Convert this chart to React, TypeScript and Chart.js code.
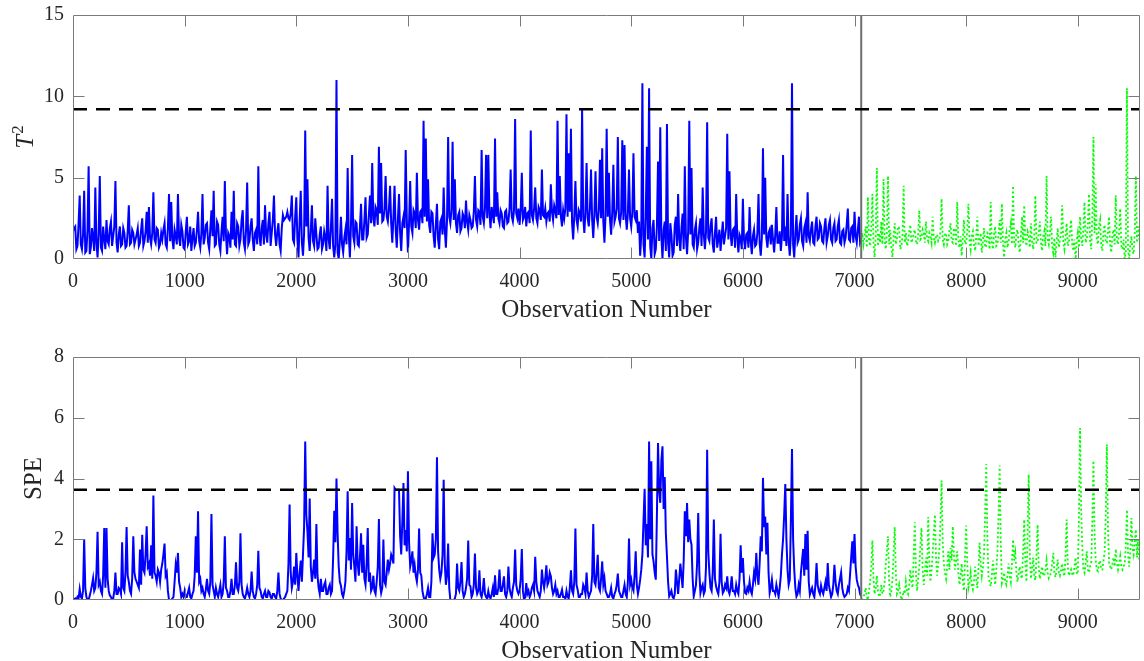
import React, { useEffect, useRef } from "react";
import { Chart, registerables } from "chart.js";

Chart.register(...registerables);

// Sampling interval of the stored monitoring statistics (observations per value)
const STEP = 10;
// First observation of the test block; the training block runs from 0 up to here
const TEST_START = 7060;
const X_MAX = 9557;
const X_TICKS = [0, 1000, 2000, 3000, 4000, 5000, 6000, 7000, 8000, 9000];
const T2_TICKS = [0, 5, 10, 15];
const SPE_TICKS = [0, 2, 4, 6, 8];
const T2_LIMIT = 9.2;
const SPE_LIMIT = 3.63;

// Hotelling T² — training data
const T2_TRAIN = [
  1.7, 1.9, 2.0, 0.6, 0.8, 2.2, 3.9, 0.9, 0.6, 1.5, 4.2, 0.4, 0.5, 1.8, 5.7, 0.3, 0.7, 1.9, 1.3, 0.5,
  4.4, 1.0, 0.1, 1.6, 5.1, 0.7, 0.5, 2.0, 1.2, 0.6, 2.4, 1.1, 0.9, 1.9, 2.3, 0.8, 1.4, 2.0, 4.8, 1.0,
  0.4, 1.5, 2.0, 0.8, 0.9, 1.9, 1.6, 0.7, 0.8, 1.7, 3.3, 0.9, 1.0, 1.8, 1.6, 0.9, 1.2, 1.5, 1.9, 0.8,
  1.0, 1.8, 2.5, 0.8, 1.1, 1.7, 2.9, 1.0, 3.2, 1.3, 0.9, 1.6, 4.1, 1.2, 1.0, 1.9, 1.8, 0.7, 0.9, 1.6,
  1.2, 1.8, 2.2, 0.9, 0.7, 1.9, 4.0, 1.1, 3.5, 1.2, 0.6, 1.8, 1.4, 0.9, 4.0, 1.3, 0.8, 2.1, 1.7, 0.7,
  0.6, 1.7, 2.6, 0.9, 1.1, 2.0, 0.5, 1.3, 1.9, 0.8, 1.0, 1.8, 2.9, 1.1, 0.7, 1.6, 4.0, 0.9, 1.3, 2.1,
  2.2, 1.0, 0.6, 1.9, 3.0, 1.4, 4.2, 0.8, 0.9, 2.3, 2.1, 0.9, 0.5, 1.7, 2.6, 1.1, 4.8, 1.5, 0.3, 1.6,
  1.4, 0.7, 2.9, 1.2, 4.2, 0.9, 0.8, 2.2, 2.0, 0.8, 1.2, 2.4, 3.0, 1.0, 0.6, 1.8, 4.7, 0.9, 1.1, 2.0,
  2.5, 1.2, 0.5, 1.6, 1.8, 0.9, 5.7, 1.4, 0.8, 1.9, 2.4, 0.9, 3.3, 1.5, 1.0, 2.2, 2.9, 0.8, 1.6, 2.4,
  3.9, 1.5, 0.8, 1.7, 2.2, 0.9, 0.5, 1.9, 2.7, 2.4, 2.5, 2.6, 2.9, 2.5, 2.4, 2.8, 3.9, 1.2, 1.0, 2.6,
  3.8, 1.2, 0.1, 2.4, 4.2, 1.0, 0.2, 1.6, 7.9, 2.0, 4.9, 1.3, 0.5, 1.8, 3.3, 1.1, 0.8, 2.5, 1.5, 0.6,
  0.7, 1.5, 2.0, 0.6, 0.9, 1.7, 1.3, 0.5, 4.5, 1.2, 0.6, 1.9, 3.7, 0.8, 0.1, 0.9, 11.0, 0.4, 0.0, 1.1,
  2.6, 0.9, 0.4, 1.3, 1.8, 0.9, 5.6, 1.5, 0.1, 2.1, 6.4, 1.4, 1.0, 2.3, 2.2, 0.9, 0.8, 2.0, 3.4, 1.2,
  1.2, 2.4, 3.8, 1.3, 1.5, 2.7, 3.9, 2.2, 5.9, 2.5, 2.0, 3.2, 3.0, 2.1, 6.9, 2.8, 5.9, 2.3, 2.4, 3.1,
  5.1, 2.6, 2.3, 3.1, 4.5, 2.2, 1.0, 2.6, 4.5, 1.8, 0.7, 2.4, 4.0, 1.6, 0.5, 2.2, 2.6, 1.9, 6.7, 2.4,
  0.4, 2.2, 4.8, 2.0, 1.6, 3.0, 2.8, 1.9, 5.3, 2.4, 1.8, 2.9, 3.0, 2.2, 8.5, 2.6, 7.4, 2.3, 4.9, 2.1,
  1.6, 2.9, 2.8, 1.4, 0.7, 2.1, 3.4, 1.2, 0.6, 2.3, 2.5, 1.5, 4.4, 1.8, 0.7, 2.4, 7.5, 2.6, 2.2, 3.0,
  7.2, 2.4, 4.9, 2.2, 1.6, 2.7, 2.9, 1.7, 1.9, 2.8, 2.6, 1.9, 3.6, 2.3, 1.8, 2.7, 2.4, 1.9, 2.0, 2.9,
  5.1, 2.4, 2.0, 3.0, 2.9, 2.1, 6.7, 2.6, 2.2, 3.1, 6.4, 2.5, 6.4, 2.8, 1.9, 3.2, 2.7, 2.2, 7.4, 2.6,
  4.1, 2.5, 2.2, 3.0, 2.8, 2.0, 1.9, 2.9, 3.0, 2.2, 2.3, 3.1, 5.5, 2.6, 2.3, 3.0, 8.6, 2.8, 2.5, 3.1,
  2.1, 3.0, 5.3, 2.4, 2.6, 3.2, 2.0, 2.8, 2.9, 2.2, 7.9, 2.7, 2.4, 3.1, 4.4, 2.5, 2.2, 3.2, 3.0, 2.4,
  5.5, 2.7, 2.6, 3.1, 2.3, 2.8, 2.9, 2.3, 4.6, 2.9, 2.4, 3.3, 3.0, 2.5, 8.5, 2.7, 5.1, 2.6, 2.0, 3.0,
  2.5, 3.1, 8.9, 2.6, 6.5, 2.9, 8.0, 2.2, 1.2, 2.7, 4.8, 2.4, 2.0, 3.0, 2.8, 2.3, 9.2, 2.6, 1.6, 2.9,
  5.9, 2.5, 2.0, 3.1, 5.5, 2.4, 1.3, 2.8, 5.4, 2.6, 2.2, 3.0, 6.1, 2.5, 6.8, 2.3, 1.0, 2.7, 8.0, 2.6,
  5.3, 2.4, 1.5, 2.9, 5.8, 2.3, 2.6, 3.1, 7.5, 2.5, 2.2, 2.9, 7.3, 2.4, 7.0, 2.7, 1.8, 2.8, 5.5, 2.5,
  2.0, 2.9, 6.5, 2.6, 2.4, 3.0, 1.6, 2.3, 0.2, 1.5, 10.8, 0.9, 0.1, 2.6, 6.9, 1.2, 10.5, 0.8, 0.0, 1.9,
  2.4, 0.3, 0.6, 2.0, 6.0, 1.1, 8.1, 1.4, 0.0, 1.8, 2.3, 0.5, 8.3, 1.0, 0.1, 2.2, 1.5, 0.2, 0.4, 2.1,
  2.6, 0.8, 4.0, 1.2, 0.5, 1.9, 2.8, 0.6, 5.7, 1.3, 0.3, 1.7, 8.5, 1.5, 5.6, 0.9, 0.7, 1.8, 2.2, 0.6,
  1.0, 1.9, 2.5, 0.8, 4.4, 1.5, 0.6, 1.7, 8.4, 1.3, 1.1, 2.0, 2.5, 0.9, 0.4, 1.6, 2.6, 0.7, 1.2, 1.8,
  0.5, 1.4, 2.3, 0.9, 1.4, 1.9, 7.7, 1.2, 5.4, 1.5, 0.8, 1.8, 1.9, 0.7, 4.0, 1.3, 0.4, 1.5, 1.3, 0.6,
  3.7, 1.2, 0.6, 1.5, 1.6, 0.7, 3.2, 1.1, 0.3, 1.4, 1.8, 0.8, 0.9, 1.6, 4.0, 1.0, 0.2, 1.3, 6.8, 1.5,
  5.0, 1.3, 0.7, 1.6, 1.8, 0.9, 2.1, 1.2, 0.4, 1.5, 3.2, 1.0, 1.0, 1.7, 0.5, 1.4, 6.4, 1.1, 2.0, 0.8,
  4.0, 1.1, 0.2, 1.5, 10.8, 0.9, 0.1, 1.6, 2.7, 1.0, 1.2, 2.1, 2.5, 1.1, 0.8, 1.9, 2.2, 1.0, 4.1, 1.4,
  1.1, 1.8, 2.3, 1.0, 0.9, 2.0, 2.6, 1.2, 1.3, 2.2, 2.0, 1.1, 1.0, 1.9, 2.5, 1.0, 1.4, 2.1, 2.4, 1.2,
  1.0, 1.9, 2.2, 1.1, 1.2, 2.0, 2.4, 1.0, 0.9, 1.7, 1.8, 1.0, 1.3, 2.1, 3.1, 1.2, 1.1, 1.9, 2.0, 1.0,
  2.9, 1.4, 1.0, 1.8, 2.6, 1.0, 1.2,
];

// Hotelling T² — test data
const T2_TEST = [
  1.2, 1.6, 0.9, 1.4, 2.0, 0.7, 3.8, 1.1, 0.8, 1.9, 4.0, 1.0, 0.1, 1.5, 5.6, 0.8, 1.6, 1.0, 2.3, 0.9,
  4.9, 1.2, 0.6, 1.7, 5.1, 0.9, 1.8, 0.7, 0.1, 1.4, 2.2, 0.9, 1.3, 2.0, 1.9, 0.6, 0.8, 1.5, 4.5, 1.0,
  1.6, 0.8, 1.0, 1.7, 2.1, 1.0, 1.2, 1.6, 1.8, 1.1, 0.9, 1.5, 3.0, 1.2, 1.3, 1.8, 1.6, 1.0, 2.3, 1.3,
  1.1, 1.6, 1.4, 1.0, 2.6, 1.3, 1.0, 1.4, 1.5, 1.1, 1.2, 1.7, 3.7, 1.2, 0.9, 1.5, 1.6, 0.9, 1.1, 1.8,
  2.2, 1.1, 1.0, 1.9, 1.8, 0.8, 3.5, 1.2, 0.7, 1.4, 0.2, 1.3, 2.4, 0.9, 1.0, 1.7, 3.4, 1.1, 0.6, 1.5,
  1.7, 0.9, 0.5, 1.4, 2.6, 0.8, 1.2, 1.6, 0.4, 1.1, 1.9, 0.7, 0.8, 1.6, 1.5, 0.6, 3.5, 1.0, 0.6, 1.5,
  2.0, 0.8, 0.9, 1.5, 2.4, 1.0, 3.4, 0.9, 0.1, 1.2, 1.6, 0.7, 1.1, 1.8, 2.2, 0.9, 4.5, 1.1, 0.7, 1.6,
  1.8, 0.9, 0.4, 1.3, 2.6, 1.0, 3.3, 1.2, 0.8, 1.7, 1.5, 0.7, 2.2, 1.1, 0.6, 1.4, 3.9, 1.0, 1.0, 1.6,
  2.3, 1.0, 0.5, 1.4, 1.7, 0.8, 5.1, 1.2, 0.9, 1.6, 2.6, 0.8, 0.4, 1.3, 0.1, 1.0, 1.9, 0.7, 1.2, 1.5,
  3.3, 1.0, 0.6, 1.4, 2.2, 0.8, 1.0, 1.7, 2.4, 0.9, 0.5, 1.2, 0.0, 1.1, 1.6, 0.7, 2.6, 1.3, 0.8, 1.9,
  3.5, 1.0, 1.2, 2.2, 4.0, 1.1, 0.6, 2.6, 7.5, 1.6, 4.6, 1.2, 0.9, 2.0, 2.4, 0.8, 0.5, 1.7, 2.1, 1.0,
  1.0, 1.8, 2.6, 0.8, 0.4, 1.5, 1.8, 0.9, 3.9, 1.2, 0.9, 1.7, 3.1, 0.8, 0.6, 1.2, 0.0, 0.4, 10.5, 0.6,
  0.0, 0.9, 1.4, 0.5, 0.3, 1.6, 5.1, 1.0, 2.0, 1.2,
];

// Squared prediction error — training data
const SPE_TRAIN = [
  0.0, 0.02, 0.05, 0.0, 0.1, 0.05, 0.36, 0.1, 0.05, 0.3, 2.0, 0.4, 0.1, 0.0, 0.0, 0.15, 0.3, 0.5, 0.72, 0.3,
  0.4, 0.9, 2.25, 0.5, 0.6, 0.3, 0.2, 0.8, 2.37, 0.4, 2.37, 0.7, 0.3, 0.15, 0.1, 0.0, 0.05, 0.3, 0.9, 0.2,
  0.2, 0.4, 0.35, 0.2, 1.9, 0.4, 0.3, 0.9, 2.4, 0.8, 0.6, 0.3, 0.2, 0.7, 2.1, 0.9, 0.7, 0.6, 0.5, 0.4,
  1.66, 0.5, 2.15, 1.0, 0.9, 1.5, 2.43, 1.1, 1.2, 0.8, 1.8, 0.7, 3.44, 0.9, 0.8, 0.6, 1.0, 0.9, 0.6, 1.0,
  1.2, 1.5, 1.86, 0.8, 0.9, 0.3, 0.0, 0.0, 0.0, 0.05, 0.1, 0.6, 1.16, 0.9, 1.55, 0.6, 0.4, 0.1, 0.2, 0.1,
  0.3, 0.1, 0.1, 0.25, 0.4, 0.1, 0.05, 0.2, 0.3, 0.8, 2.1, 0.9, 2.92, 0.6, 0.7, 0.3, 0.4, 0.2, 0.1, 0.35,
  0.7, 0.3, 0.2, 0.6, 2.83, 0.5, 0.3, 0.1, 0.4, 0.2, 0.1, 0.3, 0.5, 0.1, 0.2, 0.6, 2.1, 0.4, 0.3, 0.1,
  0.1, 0.3, 0.7, 0.2, 0.2, 0.5, 1.24, 0.4, 0.3, 0.6, 2.2, 0.5, 0.2, 0.1, 0.05, 0.2, 0.4, 0.2, 0.1, 0.3,
  0.94, 0.3, 0.1, 0.05, 0.2, 0.5, 1.62, 0.4, 0.3, 0.1, 0.05, 0.2, 0.3, 0.1, 0.1, 0.3, 0.25, 0.1, 0.05, 0.2,
  0.2, 0.1, 0.05, 0.3, 0.9, 0.2, 0.05, 0.0, 0.0, 0.05, 0.1, 0.2, 0.3, 1.2, 3.14, 0.9, 0.4, 0.6, 1.1, 0.5,
  1.55, 0.8, 0.3, 0.9, 1.3, 0.6, 1.5, 2.4, 5.22, 2.8, 2.26, 1.4, 3.34, 1.1, 0.6, 0.9, 1.33, 0.7, 2.5, 0.8,
  0.4, 0.2, 0.7, 0.3, 0.3, 0.5, 0.6, 0.2, 0.2, 0.4, 0.5, 0.2, 0.3, 1.4, 2.94, 1.9, 4.0, 2.2, 1.1, 0.6,
  0.47, 0.2, 0.1, 0.3, 0.6, 1.6, 3.58, 1.3, 2.04, 1.0, 3.19, 1.5, 1.1, 0.6, 2.43, 1.2, 0.8, 1.4, 2.2, 0.9,
  1.82, 0.7, 0.5, 1.2, 2.37, 0.6, 0.9, 0.3, 0.4, 0.8, 0.3, 0.2, 0.6, 1.1, 2.67, 0.5, 0.23, 0.4, 1.99, 0.6,
  0.5, 0.9, 1.33, 1.0, 1.2, 1.5, 1.4, 1.2, 3.69, 3.63, 3.63, 3.63, 3.63, 2.1, 1.5, 2.6, 3.85, 1.8, 2.3, 1.6,
  4.24, 1.9, 1.1, 1.3, 1.6, 0.9, 1.16, 0.8, 0.6, 1.0, 2.35, 0.9, 0.8, 0.3, 0.1, 0.0, 0.05, 0.2, 0.4, 0.1,
  0.1, 0.6, 2.2, 1.4, 1.5, 2.0, 4.7, 1.6, 1.0, 0.7, 0.9, 1.5, 3.96, 1.2, 0.5, 0.8, 1.86, 0.4, 0.0, 0.0,
  0.0, 0.0, 0.05, 0.2, 1.2, 0.4, 0.3, 0.6, 1.25, 0.3, 0.1, 0.2, 0.4, 0.7, 1.96, 0.5, 0.45, 0.1, 0.2, 0.5,
  1.53, 0.4, 0.2, 0.3, 0.98, 0.2, 0.1, 0.3, 0.72, 0.2, 0.1, 0.05, 0.29, 0.1, 0.05, 0.2, 0.4, 0.1, 0.81, 0.2,
  0.2, 0.4, 1.0, 0.3, 0.3, 0.5, 0.78, 0.2, 0.1, 0.3, 1.1, 0.4, 0.2, 0.1, 0.4, 0.6, 1.66, 0.5, 0.3, 0.2,
  0.3, 0.7, 1.68, 0.3, 0.0, 0.1, 0.56, 0.2, 0.3, 0.1, 0.2, 0.4, 0.5, 0.3, 1.42, 0.6, 0.3, 0.2, 0.1, 0.3,
  1.0, 0.6, 0.4, 0.7, 1.14, 0.5, 0.6, 0.9, 0.78, 0.4, 0.2, 0.3, 0.5, 0.2, 0.3, 0.1, 0.1, 0.2, 0.34, 0.1,
  0.1, 0.05, 0.3, 0.1, 0.05, 0.4, 0.98, 0.3, 0.2, 0.6, 2.35, 0.5, 0.34, 0.1, 0.1, 0.2, 0.2, 0.5, 0.4, 0.2,
  0.9, 0.3, 0.1, 0.2, 0.3, 0.8, 2.5, 0.6, 0.5, 0.9, 1.49, 0.4, 0.3, 0.7, 1.27, 0.5, 0.72, 0.3, 0.2, 0.1,
  0.1, 0.2, 0.4, 0.1, 0.05, 0.2, 0.3, 0.5, 0.87, 0.3, 0.2, 0.1, 0.1, 0.3, 0.5, 0.2, 0.1, 0.6, 2.02, 0.5,
  0.67, 0.4, 0.3, 0.8, 1.6, 0.5, 0.2, 0.4, 0.67, 1.0, 1.5, 2.6, 3.66, 1.8, 2.5, 1.4, 5.22, 2.0, 4.57, 1.5,
  1.27, 0.9, 0.67, 2.8, 5.17, 3.6, 3.2, 4.6, 5.06, 3.0, 4.05, 2.2, 1.44, 0.6, 0.12, 0.2, 0.3, 0.1, 0.05, 0.2,
  1.0, 0.6, 0.2, 0.7, 1.2, 0.8, 0.4, 1.3, 2.92, 2.1, 3.19, 1.9, 2.65, 2.0, 1.82, 0.7, 0.12, 0.3, 0.5, 1.2,
  2.86, 0.9, 0.23, 0.4, 0.5, 0.2, 0.3, 1.1, 4.95, 1.6, 0.9, 0.4, 0.3, 0.9, 2.65, 0.7, 0.45, 0.3, 0.2, 0.6,
  2.18, 0.6, 0.23, 0.3, 0.5, 0.4, 0.78, 0.3, 0.2, 0.4, 0.78, 0.3, 0.3, 0.2, 0.5, 0.3, 0.2, 0.7, 1.8, 0.9,
  1.38, 0.6, 0.23, 0.2, 0.4, 0.3, 0.6, 0.3, 0.2, 0.5, 0.9, 0.7, 1.55, 0.8, 0.5, 1.2, 2.1, 1.6, 4.02, 2.4,
  2.75, 1.5, 2.54, 0.9, 0.23, 0.4, 0.67, 0.3, 0.3, 0.2, 0.5, 0.3, 0.1, 0.4, 0.8, 1.5, 2.0, 2.8, 3.82, 2.0,
  1.0, 0.5, 0.67, 2.6, 4.97, 2.0, 1.0, 0.4, 0.12, 0.2, 0.5, 0.3, 0.9, 1.3, 1.68, 0.8, 2.17, 1.0, 2.28, 0.6,
  0.18, 0.3, 0.4, 0.2, 0.1, 0.5, 1.22, 0.5, 0.3, 0.2, 0.48, 0.3, 0.2, 0.4, 0.6, 0.3, 1.22, 0.5, 0.3, 0.1,
  0.2, 0.5, 1.16, 0.6, 0.3, 0.2, 0.5, 0.7, 0.91, 0.4, 0.2, 0.1, 0.14, 0.2, 0.4, 0.3, 0.83, 1.4, 1.93, 1.2,
  2.17, 1.1, 0.67, 0.5, 0.4, 0.2, 0.12,
];

// Squared prediction error — test data
const SPE_TEST = [
  0.0, 0.05, 0.1, 0.2, 0.4, 0.1, 0.0, 0.3, 0.6, 1.1, 1.96, 0.7, 0.2, 0.4, 0.8, 0.3, 0.1, 0.2, 0.5, 0.2,
  0.3, 0.6, 1.2, 1.6, 2.1, 0.6, 0.1, 0.3, 0.7, 1.5, 2.4, 0.9, 0.2, 0.3, 0.5, 0.2, 0.0, 0.1, 0.3, 0.2,
  0.6, 0.3, 0.2, 0.5, 1.0, 0.6, 0.4, 1.5, 2.56, 0.9, 0.3, 0.7, 1.1, 1.8, 2.37, 1.0, 0.5, 0.9, 1.4, 0.8,
  2.73, 1.3, 0.6, 1.0, 1.5, 2.2, 2.81, 1.4, 0.8, 1.2, 1.7, 2.6, 3.93, 1.9, 1.2, 0.9, 0.7, 1.1, 1.6, 1.0,
  1.71, 1.3, 2.43, 1.5, 1.0, 1.3, 1.6, 0.9, 0.5, 0.8, 1.2, 0.6, 0.3, 1.4, 2.45, 1.2, 0.4, 0.6, 0.9, 0.5,
  0.35, 0.6, 1.1, 0.7, 0.4, 1.0, 1.88, 1.2, 0.8, 1.1, 1.5, 2.9, 4.48, 2.0, 0.78, 0.6, 0.45, 0.8, 1.3, 0.9,
  0.5, 1.0, 1.6, 2.8, 4.43, 1.9, 0.56, 0.7, 0.9, 0.6, 0.5, 0.8, 1.2, 0.8, 0.6, 1.2, 1.99, 1.3, 1.55, 0.9,
  0.6, 0.9, 1.1, 0.8, 0.7, 1.6, 2.65, 1.2, 0.6, 2.2, 4.13, 1.5, 0.7, 1.0, 1.4, 0.8, 0.65, 1.5, 2.48, 1.1,
  0.7, 0.9, 1.1, 0.8, 0.8, 1.0, 1.3, 0.9, 0.72, 0.8, 0.9, 1.2, 1.55, 0.9, 0.75, 1.0, 1.33, 0.9, 0.8, 1.0,
  1.2, 0.9, 0.78, 1.5, 2.65, 1.1, 0.8, 0.9, 1.0, 0.85, 0.8, 1.1, 1.4, 0.9, 0.85, 2.8, 5.66, 3.0, 1.77, 1.0,
  0.9, 1.2, 1.6, 1.0, 0.9, 1.1, 1.22, 2.6, 4.59, 2.2, 1.33, 1.0, 0.95, 1.2, 1.3, 1.0, 1.0, 1.3, 1.6, 2.8,
  5.12, 2.4, 1.22, 1.1, 1.0, 1.2, 1.4, 1.1, 1.68, 1.2, 1.0, 1.2, 1.44, 1.1, 1.0, 1.1, 1.2, 1.8, 2.97, 1.5,
  1.1, 1.6, 2.7, 1.7, 1.5, 1.9, 2.32, 1.4, 1.99, 1.3,
];

const FONT = '"Liberation Serif", "Times New Roman", serif';
const TEXT_COLOR = "#262626";
const FRAME_COLOR = "#7a7a7a";
const TICK_LEN = 11;
const TICK_FONT_SIZE = 20;
const LABEL_FONT_SIZE = 25;

type Pt = { x: number; y: number };

const toPoints = (values: number[], start: number): Pt[] =>
  values.map((y, i) => ({ x: start + i * STEP, y }));

type PanelProps = {
  top: number;
  height: number;
  padTop: number;
  axisHeight: number;
  yMax: number;
  yTicks: number[];
  train: number[];
  test: number[];
  limit: number;
  yTitle: "T2" | "SPE";
  yTitleX: number;
};

function Panel(props: PanelProps) {
  const ref = useRef<HTMLCanvasElement | null>(null);

  useEffect(() => {
    const canvas = ref.current;
    if (!canvas) return;
    const { yMax, yTicks, train, test, limit, yTitle, yTitleX } = props;

    // Axes box, inward tick marks, tick labels and axis titles
    const axesPlugin = {
      id: "boxedAxes",
      afterDatasetsDraw(chart: Chart) {
        const { ctx, chartArea: a } = chart;
        const xs = chart.scales.x;
        const ys = chart.scales.y;
        const L = Math.round(a.left) + 0.5;
        const R = Math.round(a.right) - 0.5;
        const T = Math.round(a.top) + 0.5;
        const B = Math.round(a.bottom) - 0.5;
        ctx.save();
        ctx.strokeStyle = FRAME_COLOR;
        ctx.lineWidth = 1;
        ctx.beginPath();
        ctx.moveTo(L, T);
        ctx.lineTo(R, T);
        ctx.lineTo(R, B);
        ctx.lineTo(L, B);
        ctx.closePath();
        for (const v of X_TICKS) {
          const px = Math.round(xs.getPixelForValue(v)) + 0.5;
          if (px <= L + 1 || px >= R - 1) continue;
          ctx.moveTo(px, T);
          ctx.lineTo(px, T + TICK_LEN);
          ctx.moveTo(px, B);
          ctx.lineTo(px, B - TICK_LEN);
        }
        for (const v of yTicks) {
          const py = Math.round(ys.getPixelForValue(v)) + 0.5;
          if (py <= T + 1 || py >= B - 1) continue;
          ctx.moveTo(L, py);
          ctx.lineTo(L + TICK_LEN, py);
          ctx.moveTo(R, py);
          ctx.lineTo(R - TICK_LEN, py);
        }
        ctx.stroke();

        ctx.fillStyle = TEXT_COLOR;
        ctx.font = `${TICK_FONT_SIZE}px ${FONT}`;
        ctx.textAlign = "center";
        ctx.textBaseline = "alphabetic";
        for (const v of X_TICKS) {
          ctx.fillText(String(v), xs.getPixelForValue(v), a.bottom + 28);
        }
        ctx.textAlign = "right";
        ctx.textBaseline = "middle";
        for (const v of yTicks) {
          ctx.fillText(String(v), a.left - 9, ys.getPixelForValue(v));
        }

        ctx.font = `${LABEL_FONT_SIZE}px ${FONT}`;
        ctx.textAlign = "center";
        ctx.textBaseline = "alphabetic";
        ctx.fillText("Observation Number", (a.left + a.right) / 2, a.bottom + 58);

        const cy = (a.top + a.bottom) / 2;
        ctx.translate(yTitleX, cy);
        ctx.rotate(-Math.PI / 2);
        const cap = LABEL_FONT_SIZE * 0.33;
        if (yTitle === "T2") {
          const supSize = Math.round(LABEL_FONT_SIZE * 0.68);
          ctx.font = `italic ${LABEL_FONT_SIZE}px ${FONT}`;
          const wT = ctx.measureText("T").width;
          ctx.font = `${supSize}px ${FONT}`;
          const w2 = ctx.measureText("2").width;
          const x0 = -(wT + w2 + 1) / 2;
          ctx.textAlign = "left";
          ctx.font = `italic ${LABEL_FONT_SIZE}px ${FONT}`;
          ctx.fillText("T", x0, cap);
          ctx.font = `${supSize}px ${FONT}`;
          ctx.fillText("2", x0 + wT + 1, cap - LABEL_FONT_SIZE * 0.42);
        } else {
          ctx.fillText("SPE", 0, cap);
        }
        ctx.restore();
      },
    };

    const chart = new Chart(canvas, {
      type: "line",
      data: {
        datasets: [
          {
            data: [
              { x: 0, y: limit },
              { x: X_MAX, y: limit },
            ],
            borderColor: "#000000",
            borderWidth: 2.5,
            borderDash: [14, 9],
            pointRadius: 0,
          },
          {
            data: [
              { x: TEST_START, y: 0 },
              { x: TEST_START, y: yMax },
            ],
            borderColor: "#6e6e6e",
            borderWidth: 2,
            pointRadius: 0,
          },
          {
            data: toPoints(train, 0),
            borderColor: "#0000ff",
            borderWidth: 2,
            pointRadius: 0,
            tension: 0,
          },
          {
            data: toPoints(test, TEST_START),
            borderColor: "#00ff00",
            borderWidth: 1.8,
            borderDash: [2, 2.5],
            pointRadius: 0,
            tension: 0,
          },
        ],
      },
      options: {
        responsive: false,
        animation: false,
        devicePixelRatio: 1,
        events: [],
        layout: { padding: { top: props.padTop, right: 4, bottom: 0, left: 0 } },
        plugins: {
          legend: { display: false },
          tooltip: { enabled: false },
          title: { display: false },
        },
        scales: {
          x: {
            type: "linear",
            min: 0,
            max: X_MAX,
            grid: { display: false, drawTicks: false },
            border: { display: false },
            ticks: { display: false },
            afterFit: (s: any) => {
              s.height = props.axisHeight;
            },
          },
          y: {
            type: "linear",
            min: 0,
            max: yMax,
            grid: { display: false, drawTicks: false },
            border: { display: false },
            ticks: { display: false },
            afterFit: (s: any) => {
              s.width = 73;
            },
          },
        },
      },
      plugins: [axesPlugin],
    } as any);

    return () => chart.destroy();
  }, []);

  return (
    <canvas
      ref={ref}
      width={1144}
      height={props.height}
      style={{ position: "absolute", left: 0, top: props.top, width: 1144, height: props.height }}
    />
  );
}

export default function App() {
  return (
    <div
      style={{
        position: "absolute",
        left: 0,
        top: 0,
        width: 1144,
        height: 661,
        background: "#ffffff",
        overflow: "hidden",
      }}
    >
      <Panel
        top={0}
        height={330}
        padTop={15}
        axisHeight={71}
        yMax={15}
        yTicks={T2_TICKS}
        train={T2_TRAIN}
        test={T2_TEST}
        limit={T2_LIMIT}
        yTitle="T2"
        yTitleX={25}
      />
      <Panel
        top={330}
        height={331}
        padTop={27}
        axisHeight={61}
        yMax={8}
        yTicks={SPE_TICKS}
        train={SPE_TRAIN}
        test={SPE_TEST}
        limit={SPE_LIMIT}
        yTitle="SPE"
        yTitleX={33}
      />
    </div>
  );
}
